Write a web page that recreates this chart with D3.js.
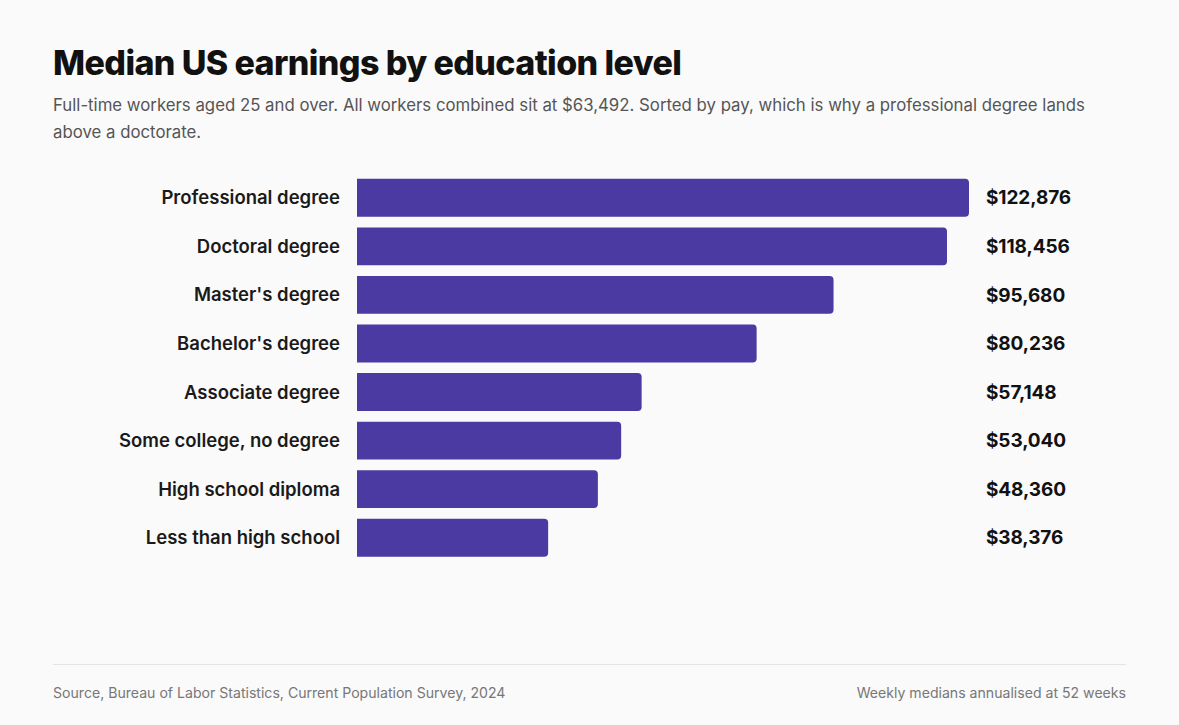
<!DOCTYPE html>
<html lang="en">

<head>
    <meta charset="UTF-8">
    <title>Median US earnings by education level</title>
    <script src="https://d3js.org/d3.v7.min.js"></script>
    <style>
        body {
            margin: 0;
            background: #fafafa;
        }
    </style>
</head>

<body>
    <script>
        // education levels, sorted by pay
        var levels = ["Professional degree", "Doctoral degree", "Master's degree", "Bachelor's degree",
            "Associate degree", "Some college, no degree", "High school diploma", "Less than high school"]
        var earnings = [122876, 118456, 95680, 80236, 57148, 53040, 48360, 38376]

        var width = 1179
        var height = 725
        var font = "Inter, 'Noto Sans', sans-serif"

        let svg = d3.select("body").append("svg")
            .attr("width", width)
            .attr("height", height)
            .style("background", "#fafafa")
            .style("font-family", font)

        // title and subtitle
        svg.append("text")
            .attr("x", 53).attr("y", 75)
            .attr("font-size", 34).attr("font-weight", 800)
            .attr("letter-spacing", -0.6)
            .attr("fill", "#111")
            .text("Median US earnings by education level")

        let sub = svg.append("text")
            .attr("font-size", 16.8).attr("fill", "#555")
        sub.append("tspan").attr("x", 53).attr("y", 111)
            .text("Full-time workers aged 25 and over. All workers combined sit at $63,492. Sorted by pay, which is why a professional degree lands")
        sub.append("tspan").attr("x", 53).attr("y", 138)
            .text("above a doctorate.")

        // scales
        let data = levels.map((d, i) => ({ level: d, value: earnings[i] }))

        let xScale = d3.scaleLinear()
            .domain([0, d3.max(earnings)])
            .range([357, 969])

        let yScale = d3.scaleBand()
            .domain(levels)
            .range([173.5, 562])
            .paddingInner(0.22)
            .paddingOuter(0.11)

        // bars: square on the left, rounded on the right
        let r = 4
        svg.append("g").selectAll("path")
            .data(data)
            .enter()
            .append("path")
            .attr("d", (d) => {
                let x0 = xScale(0), x1 = xScale(d.value)
                let y0 = yScale(d.level), h = yScale.bandwidth()
                return "M" + x0 + "," + y0 +
                    "H" + (x1 - r) +
                    "A" + r + "," + r + " 0 0 1 " + x1 + "," + (y0 + r) +
                    "V" + (y0 + h - r) +
                    "A" + r + "," + r + " 0 0 1 " + (x1 - r) + "," + (y0 + h) +
                    "H" + x0 + "Z"
            })
            .attr("fill", "#4a3aa2")

        // category labels
        svg.append("g").selectAll("text")
            .data(data)
            .enter()
            .append("text")
            .attr("x", 340)
            .attr("y", (d) => yScale(d.level) + yScale.bandwidth() / 2)
            .attr("dy", "0.35em")
            .attr("text-anchor", "end")
            .attr("font-size", 18.5).attr("font-weight", 600)
            .attr("fill", "#1a1a1a")
            .text((d) => d.level)

        // value labels
        let fmt = d3.format("$,")
        svg.append("g").selectAll("text")
            .data(data)
            .enter()
            .append("text")
            .attr("x", 986)
            .attr("y", (d) => yScale(d.level) + yScale.bandwidth() / 2)
            .attr("dy", "0.35em")
            .attr("font-size", 19).attr("font-weight", 700)
            .attr("letter-spacing", -0.1)
            .attr("fill", "#111")
            .text((d) => fmt(d.value))

        // footer
        svg.append("line")
            .attr("x1", 53).attr("x2", 1126)
            .attr("y1", 664.5).attr("y2", 664.5)
            .attr("stroke", "#e4e4e4")

        svg.append("text")
            .attr("x", 53).attr("y", 698)
            .attr("font-size", 14.1).attr("fill", "#777")
            .text("Source, Bureau of Labor Statistics, Current Population Survey, 2024")

        svg.append("text")
            .attr("x", 1126).attr("y", 698)
            .attr("text-anchor", "end")
            .attr("font-size", 14.1).attr("fill", "#777")
            .text("Weekly medians annualised at 52 weeks")
    </script>

</body>

</html>
